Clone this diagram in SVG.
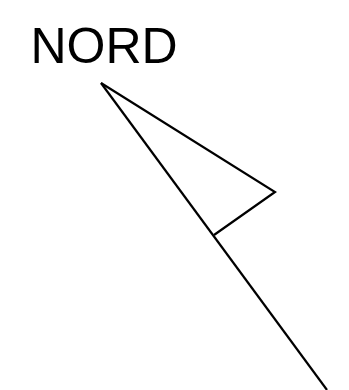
<svg xmlns="http://www.w3.org/2000/svg" width="349" height="390" viewBox="0 0 349 390">
<style>
.lbl{font-family:"Liberation Sans",Arial,sans-serif;font-size:50px;fill:#000}
.ln{fill:none;stroke:#000;stroke-width:2.2;stroke-linejoin:miter;stroke-linecap:butt}
</style>
<rect width="349" height="390" fill="#fff"/>
<g id="label"><text class="lbl" x="30.5" y="63">NORD</text></g>
<g id="arrow">
<path class="ln" d="M101,83 L275,192 L214,235"/>
<path class="ln" d="M101,83 L327,390"/>
</g>
</svg>
